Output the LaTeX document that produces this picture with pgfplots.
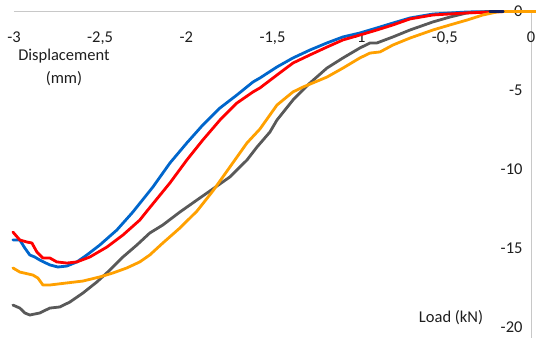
\documentclass[border=0pt]{standalone}
\usepackage{fontspec}
\setmainfont{Carlito}
\usepackage{pgfplots}
\pgfplotsset{compat=1.18}
\definecolor{cblue}{RGB}{0,102,204}
\definecolor{cred}{RGB}{255,0,0}
\definecolor{cgray}{RGB}{89,89,89}
\definecolor{corange}{RGB}{255,160,0}
\definecolor{cnavy}{RGB}{20,30,90}
\definecolor{textc}{RGB}{30,30,30}
\definecolor{axisc}{RGB}{200,200,200}
\begin{document}
\begin{tikzpicture}
\begin{axis}[
 scale only axis, width=517bp, height=326.4bp,
 xmin=-3, xmax=0, ymin=-20.66, ymax=0,
 axis x line*=top, axis y line*=right,
 axis line style={draw=axisc, line width=1bp},
 xtick={-3,-2.5,-2,-1.5,-1,-0.5,0},
 xticklabels={{-3},{-2,5},{-2},{-1,5},{-1},{-0,5},{0}},
 ytick={0,-5,-10,-15,-20}, yticklabels={{0},{-5},{-10},{-15},{-20}},
 major tick length=0pt,
 yticklabel style={anchor=east, xshift=-5bp},
 tick label style={font=\fontsize{16.5bp}{19bp}\selectfont, text=textc},
 xticklabel style={anchor=north, yshift=-17bp},
 clip=false,
 every axis plot/.append style={line width=2.8bp, line join=round, line cap=round, mark=none},
]
\addplot[cblue] coordinates {
(-3.006,-14.46) (-2.966,-14.46) (-2.937,-14.97) (-2.908,-15.41) (-2.879,-15.54)
(-2.850,-15.73) (-2.792,-16.04) (-2.745,-16.17) (-2.693,-16.11) (-2.635,-15.85)
(-2.577,-15.41) (-2.502,-14.78) (-2.403,-13.83) (-2.310,-12.69) (-2.194,-11.11)
(-2.095,-9.59) (-1.997,-8.32) (-1.904,-7.18) (-1.805,-6.11) (-1.706,-5.28)
(-1.613,-4.46) (-1.573,-4.21) (-1.474,-3.51) (-1.381,-2.94) (-1.283,-2.44)
(-1.184,-1.99) (-1.091,-1.61) (-0.993,-1.36) (-0.894,-1.04) (-0.801,-0.73)
(-0.702,-0.41) (-0.569,-0.16) (-0.371,-0.03) (-0.221,0)
};
\addplot[cgray] coordinates {
(-3.006,-18.58) (-2.966,-18.77) (-2.937,-19.08) (-2.908,-19.21) (-2.850,-19.08)
(-2.792,-18.77) (-2.734,-18.70) (-2.676,-18.39) (-2.600,-17.82) (-2.519,-17.12)
(-2.443,-16.36) (-2.368,-15.54) (-2.287,-14.78) (-2.212,-14.02) (-2.136,-13.51)
(-2.037,-12.69) (-1.938,-11.93) (-1.846,-11.23) (-1.747,-10.47) (-1.648,-9.40)
(-1.590,-8.58) (-1.515,-7.63) (-1.474,-6.87) (-1.381,-5.60) (-1.283,-4.53)
(-1.184,-3.58) (-1.091,-2.94) (-0.993,-2.31) (-0.934,-1.99) (-0.894,-1.99)
(-0.801,-1.61) (-0.702,-1.17) (-0.569,-0.66) (-0.470,-0.35) (-0.371,-0.09)
(-0.279,-0.03) (-0.197,0)
};
\addplot[cred] coordinates {
(-3.006,-13.96) (-2.966,-14.46) (-2.925,-14.59) (-2.896,-14.65) (-2.867,-15.22)
(-2.832,-15.60) (-2.792,-15.60) (-2.751,-15.85) (-2.693,-15.92) (-2.635,-15.85)
(-2.560,-15.54) (-2.461,-14.91) (-2.368,-14.15) (-2.270,-13.20) (-2.223,-12.56)
(-2.095,-10.85) (-1.997,-9.40) (-1.904,-8.13) (-1.805,-6.87) (-1.706,-5.79)
(-1.613,-5.09) (-1.573,-4.84) (-1.474,-4.02) (-1.381,-3.26) (-1.283,-2.75)
(-1.184,-2.25) (-1.091,-1.80) (-0.993,-1.49) (-0.894,-1.17) (-0.801,-0.85)
(-0.702,-0.47) (-0.569,-0.22) (-0.371,-0.09) (-0.221,-0.03) (-0.151,0)
};
\addplot[corange] coordinates {
(-3.006,-16.23) (-2.966,-16.49) (-2.890,-16.68) (-2.861,-16.87) (-2.832,-17.31)
(-2.792,-17.31) (-2.693,-17.18) (-2.600,-17.06) (-2.502,-16.80) (-2.426,-16.55)
(-2.345,-16.23) (-2.270,-15.85) (-2.212,-15.41) (-2.136,-14.65) (-2.037,-13.70)
(-1.938,-12.63) (-1.846,-11.36) (-1.747,-9.84) (-1.648,-8.32) (-1.573,-7.44)
(-1.515,-6.55) (-1.474,-5.92) (-1.381,-5.09) (-1.323,-4.78) (-1.184,-4.15)
(-1.091,-3.58) (-0.993,-2.94) (-0.934,-2.63) (-0.876,-2.56) (-0.801,-2.12)
(-0.702,-1.68) (-0.569,-1.17) (-0.470,-0.85) (-0.371,-0.54) (-0.279,-0.22)
(-0.197,-0.03) (-0.151,0) (0,0) (0.029,0)
};
\addplot[cnavy, line width=2.2bp] coordinates {(-0.24,0) (-0.16,0)};
\node[font=\fontsize{16.5bp}{23bp}\selectfont, text=textc, align=center] at (axis cs:-2.71,-3.55) {Displacement\\(mm)};
\node[font=\fontsize{16.5bp}{19bp}\selectfont, text=textc] at (axis cs:-0.464,-19.40) {Load (kN)};
\coordinate (bl) at (axis cs:-3.081,-20.66);
\coordinate (tr) at (axis cs:0.029,0.728);
\end{axis}
\pgfresetboundingbox
\path[use as bounding box] (bl) rectangle (tr);
\end{tikzpicture}
\end{document}
